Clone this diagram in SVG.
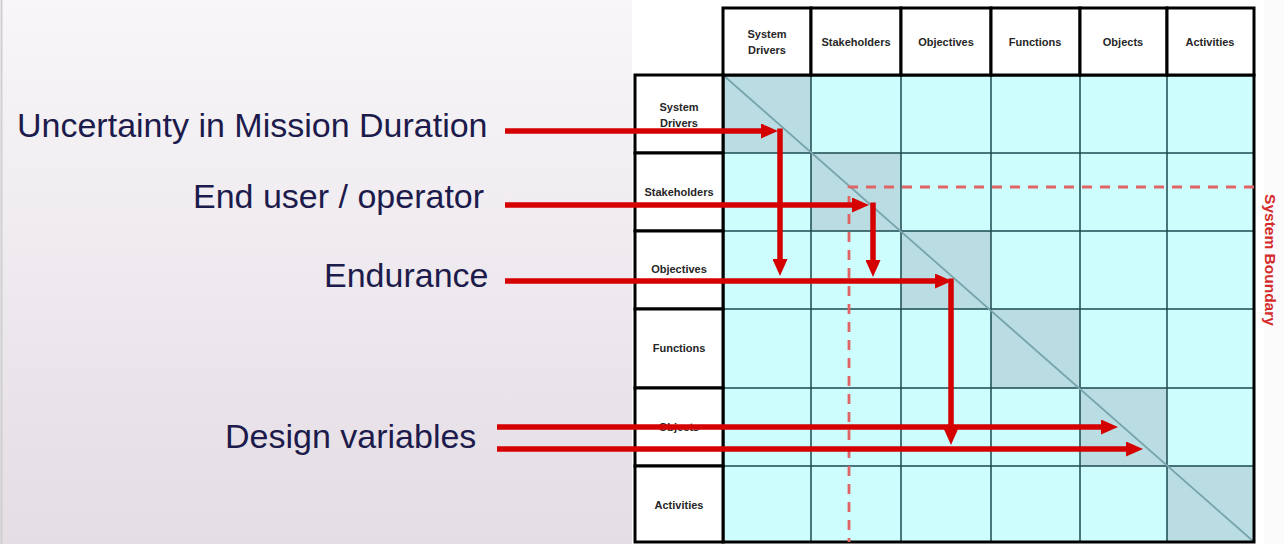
<svg xmlns="http://www.w3.org/2000/svg" width="1284" height="544" viewBox="0 0 1284 544">
  <defs>
    <linearGradient id="panelBg" x1="0" y1="0" x2="0" y2="1">
      <stop offset="0" stop-color="#f8f6f9"/>
      <stop offset="1" stop-color="#e4dde4"/>
    </linearGradient>
    <marker id="head" markerUnits="userSpaceOnUse" markerWidth="17" markerHeight="15" refX="2" refY="7.5" orient="auto">
      <path d="M0,0 L17,7.5 L0,15 z" fill="#d50000"/>
    </marker>
    <style>
      .lbl { font-family: "Liberation Sans", Arial, sans-serif; font-size: 34px; fill: #1c1b4b; }
      .hdr { font-family: "Liberation Sans", Arial, sans-serif; font-size: 11px; font-weight: bold; fill: #262626; text-anchor: middle; }
      .hcell { fill: #ffffff; stroke: #000000; stroke-width: 3; }
      .cell { fill: #cdfdfd; }
      .diag { fill: #b9dde3; }
      .grid { stroke: #1d4a50; stroke-width: 1.5; fill: none; }
      .frame { stroke: #000000; stroke-width: 3; fill: none; }
      .bound { stroke: #e06464; stroke-width: 2.8; stroke-dasharray: 10 8; fill: none; }
      .arrow { stroke: #d50000; stroke-width: 5.5; fill: none; marker-end: url(#head); }
    </style>
  </defs>

  <!-- backgrounds -->
  <rect x="0" y="0" width="1284" height="544" fill="url(#panelBg)"/>
  <rect x="632" y="0" width="632" height="544" fill="#ffffff"/>
  <rect x="1264" y="0" width="20" height="544" fill="#fbfbfb"/>
  <line x1="1.5" y1="0" x2="1.5" y2="544" stroke="#cfcfcf" stroke-width="2"/>

  <!-- matrix body -->
  <g id="matrix">
    <rect class="cell" x="723" y="75" width="531" height="467"/>
    <rect class="diag" x="723" y="75" width="88" height="78"/>
    <rect class="diag" x="811" y="153" width="90" height="78"/>
    <rect class="diag" x="901" y="231" width="90" height="78"/>
    <rect class="diag" x="991" y="309" width="89" height="79"/>
    <rect class="diag" x="1080" y="388" width="87" height="78"/>
    <rect class="diag" x="1167" y="466" width="87" height="76"/>
    <path class="grid" d="M811,75 V542 M901,75 V542 M991,75 V542 M1080,75 V542 M1167,75 V542 M723,153 H1254 M723,231 H1254 M723,309 H1254 M723,388 H1254 M723,466 H1254"/>
    <line x1="723" y1="75" x2="1254" y2="542" stroke="#78a4ad" stroke-width="1.8"/>
    <rect class="frame" x="723" y="75" width="531" height="467"/>
  </g>

  <!-- column headers -->
  <g id="col-system-drivers">
    <rect class="hcell" x="723" y="8" width="88" height="67"/>
    <text class="hdr" x="767" y="38">System</text>
    <text class="hdr" x="767" y="54">Drivers</text>
  </g>
  <g id="col-stakeholders">
    <rect class="hcell" x="811" y="8" width="90" height="67"/>
    <text class="hdr" x="856" y="46">Stakeholders</text>
  </g>
  <g id="col-objectives">
    <rect class="hcell" x="901" y="8" width="90" height="67"/>
    <text class="hdr" x="946" y="46">Objectives</text>
  </g>
  <g id="col-functions">
    <rect class="hcell" x="991" y="8" width="89" height="67"/>
    <text class="hdr" x="1035" y="46">Functions</text>
  </g>
  <g id="col-objects">
    <rect class="hcell" x="1080" y="8" width="87" height="67"/>
    <text class="hdr" x="1123" y="46">Objects</text>
  </g>
  <g id="col-activities">
    <rect class="hcell" x="1167" y="8" width="87" height="67"/>
    <text class="hdr" x="1210" y="46">Activities</text>
  </g>

  <!-- row headers -->
  <g id="row-system-drivers">
    <rect class="hcell" x="635" y="75" width="88" height="78"/>
    <text class="hdr" x="679" y="111">System</text>
    <text class="hdr" x="679" y="127">Drivers</text>
  </g>
  <g id="row-stakeholders">
    <rect class="hcell" x="635" y="153" width="88" height="78"/>
    <text class="hdr" x="679" y="196">Stakeholders</text>
  </g>
  <g id="row-objectives">
    <rect class="hcell" x="635" y="231" width="88" height="78"/>
    <text class="hdr" x="679" y="273">Objectives</text>
  </g>
  <g id="row-functions">
    <rect class="hcell" x="635" y="309" width="88" height="79"/>
    <text class="hdr" x="679" y="352">Functions</text>
  </g>
  <g id="row-objects">
    <rect class="hcell" x="635" y="388" width="88" height="78"/>
    <text class="hdr" x="679" y="431">Objects</text>
  </g>
  <g id="row-activities">
    <rect class="hcell" x="635" y="466" width="88" height="76"/>
    <text class="hdr" x="679" y="509">Activities</text>
  </g>

  <!-- system boundary -->
  <g id="system-boundary">
    <path class="bound" d="M1254,187 H849 V542"/>
    <text x="1270" y="260" transform="rotate(90 1270 260)" text-anchor="middle" dominant-baseline="central" font-family="Liberation Sans, Arial, sans-serif" font-size="15.5" font-weight="bold" fill="#d42a2a">System Boundary</text>
  </g>

  <!-- input labels -->
  <g id="label-mission-duration">
    <text class="lbl" x="17" y="137">Uncertainty in Mission Duration</text>
  </g>
  <g id="label-end-user">
    <text class="lbl" x="193" y="208">End user / operator</text>
  </g>
  <g id="label-endurance">
    <text class="lbl" x="324" y="287">Endurance</text>
  </g>
  <g id="label-design-variables">
    <text class="lbl" x="225" y="448">Design variables</text>
  </g>

  <!-- connectors -->
  <g id="connectors">
    <line class="arrow" x1="505" y1="131" x2="763" y2="131"/>
    <line class="arrow" x1="780" y1="128.5" x2="780" y2="261"/>
    <line class="arrow" x1="505" y1="205" x2="854" y2="205"/>
    <line class="arrow" x1="873" y1="202.5" x2="873" y2="262"/>
    <line class="arrow" x1="505" y1="281" x2="937" y2="281"/>
    <line class="arrow" x1="951" y1="278.5" x2="951" y2="430"/>
    <line class="arrow" x1="497" y1="427" x2="1103" y2="427"/>
    <line class="arrow" x1="497" y1="449" x2="1128" y2="449"/>
  </g>
</svg>
